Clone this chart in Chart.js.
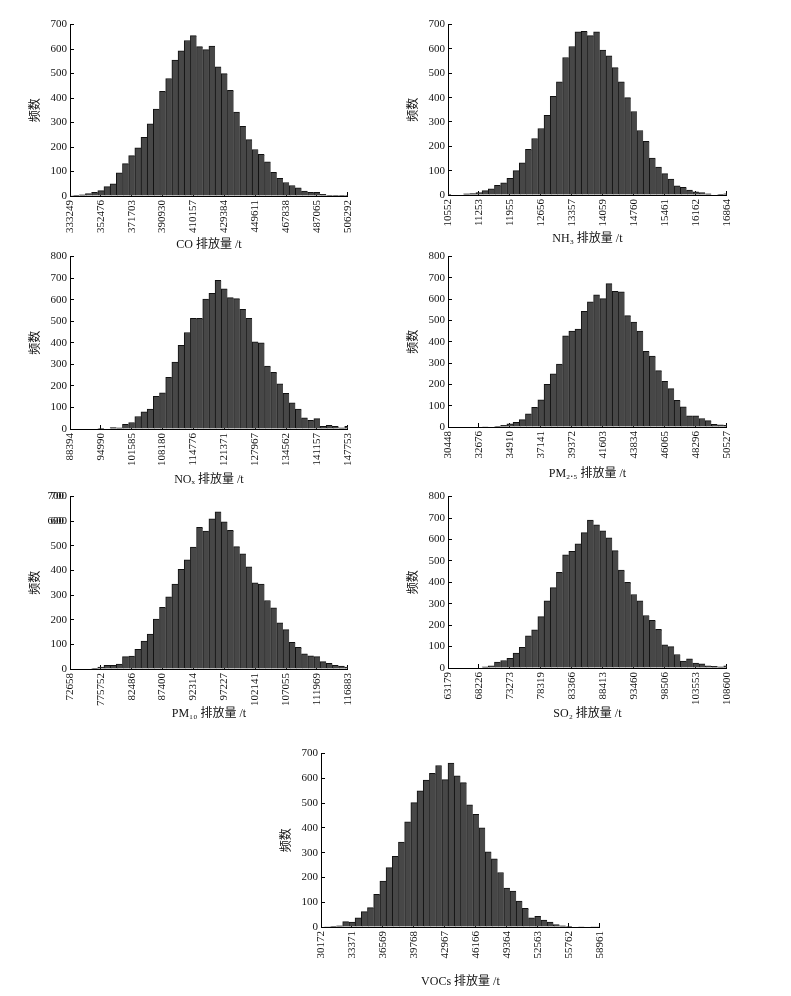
<!DOCTYPE html>
<html>
<head>
<meta charset="utf-8">
<script src="https://cdn.jsdelivr.net/npm/chart.js@4.4.1/dist/chart.umd.min.js"></script>
<style>
  body { margin: 0; background: #fff; width: 791px; height: 996px; position: relative; overflow: hidden; }
  canvas { position: absolute; }
</style>
</head>
<body>
<canvas id="coChart" width="349" height="245" style="left:20px;top:11px"></canvas>
<canvas id="nh3Chart" width="350" height="239" style="left:398px;top:11px"></canvas>
<canvas id="noxChart" width="349" height="248" style="left:20px;top:243px"></canvas>
<canvas id="pm25Chart" width="350" height="242" style="left:398px;top:243px"></canvas>
<canvas id="pm10Chart" width="349" height="242" style="left:20px;top:483px"></canvas>
<canvas id="so2Chart" width="350" height="242" style="left:398px;top:483px"></canvas>
<canvas id="vocChart" width="350" height="253" style="left:271px;top:740px"></canvas>
<script>
// Frequências (46 classes por gráfico)
const coCounts = [1, 3, 5, 10, 15, 22, 38, 50, 95, 132, 165, 197, 240, 295, 355, 427, 480, 555, 593, 635,
  655, 610, 598, 612, 528, 500, 432, 343, 285, 230, 190, 170, 140, 97, 72, 55, 43, 33, 20, 15,
  15, 7, 3, 3, 3, 3];
const nh3Counts = [3, 0, 0, 5, 6, 10, 18, 25, 40, 50, 68, 100, 132, 188, 232, 273, 327, 405, 465, 565,
  610, 670, 672, 655, 670, 595, 572, 523, 465, 400, 343, 265, 220, 152, 115, 88, 65, 38, 32, 20,
  13, 10, 5, 0, 3, 5];
const noxCounts = [0, 0, 0, 0, 0, 3, 2, 7, 5, 22, 30, 58, 80, 93, 152, 168, 240, 310, 388, 448,
  513, 513, 603, 630, 690, 650, 610, 605, 555, 513, 405, 400, 292, 263, 210, 165, 122, 93, 52, 40,
  48, 12, 17, 12, 5, 12];
const pm25Counts = [0, 0, 0, 0, 0, 0, 1, 2, 3, 8, 15, 22, 35, 62, 92, 127, 200, 250, 295, 428,
  450, 460, 543, 588, 620, 603, 673, 637, 635, 523, 492, 450, 355, 333, 265, 215, 180, 125, 95, 53,
  53, 40, 30, 12, 10, 8];
const pm10Counts = [0, 0, 0, 2, 3, 8, 15, 15, 20, 50, 52, 80, 113, 142, 203, 250, 293, 345, 405, 443,
  495, 575, 560, 610, 638, 598, 563, 497, 468, 415, 350, 345, 278, 248, 187, 160, 108, 88, 62, 53,
  50, 30, 23, 15, 12, 8];
const so2Counts = [0, 0, 0, 0, 0, 2, 5, 10, 28, 35, 45, 70, 97, 150, 178, 240, 313, 375, 447, 528,
  545, 580, 632, 690, 668, 640, 608, 548, 457, 400, 343, 313, 245, 223, 180, 108, 100, 63, 32, 43,
  23, 20, 10, 8, 5, 10];
const vocCounts = [0, 1, 3, 5, 22, 20, 37, 62, 78, 132, 185, 240, 285, 343, 425, 502, 550, 593, 620, 652,
  595, 662, 610, 583, 493, 455, 400, 303, 275, 220, 157, 145, 105, 75, 37, 43, 28, 20, 10, 5,
  3, 2, 1, 2, 1, 1];

// Rótulos do eixo X (um a cada 5 classes), como impressos
const coTicks = ['333249', '352476', '371703', '390930', '410157', '429384', '449611', '467838', '487065', '506292'];
const nh3Ticks = ['10552', '11253', '11955', '12656', '13357', '14059', '14760', '15461', '16162', '16864'];
const noxTicks = ['88394', '94990', '101585', '108180', '114776', '121371', '127967', '134562', '141157', '147753'];
const pm25Ticks = ['30448', '32676', '34910', '37141', '39372', '41603', '43834', '46065', '48296', '50527'];
const pm10Ticks = ['72658', '775752', '82486', '87400', '92314', '97227', '102141', '107055', '111969', '116883'];
const so2Ticks = ['63179', '68226', '73273', '78319', '83366', '88413', '93460', '98506', '103553', '108600'];
const vocTicks = ['30172', '33371', '36569', '39768', '42967', '46166', '49364', '52563', '55762', '58961'];

const FONT = "'Liberation Serif', 'Noto Sans CJK SC', serif";

// rótulos 600/700 duplicados no eixo Y do PM10 (como na figura)
const doubledLabels = {
  id: 'doubledLabels',
  afterDraw(chart) {
    const y = chart.scales.y;
    const ctx = chart.ctx;
    ctx.save();
    ctx.font = '11px ' + FONT;
    ctx.fillStyle = '#111';
    ctx.textAlign = 'right';
    ctx.textBaseline = 'middle';
    [600, 700].forEach(v => ctx.fillText(String(v), y.right - 6, y.getPixelForValue(v)));
    ctx.restore();
  }
};

function drawHist(id, counts, tickLabels, yMax, xTitle, xHeight, extraPlugins) {
  const ctx = document.getElementById(id).getContext('2d');
  new Chart(ctx, {
    type: 'bar',
    data: {
      datasets: [{
        data: counts.map((c, i) => ({ x: i, y: c })),
        backgroundColor: '#474747',
        borderColor: '#111',
        borderWidth: { top: 1, left: 1, right: 0, bottom: 0 },
        borderSkipped: 'start',
        barPercentage: 1,
        categoryPercentage: 1
      }]
    },
    options: {
      responsive: false,
      animation: false,
      devicePixelRatio: 1,
      layout: { padding: { top: 8, right: 10, left: 0, bottom: 0 } },
      plugins: { legend: { display: false }, tooltip: { enabled: false } },
      scales: {
        x: {
          type: 'linear',
          offset: false,
          min: 0,
          max: counts.length - 1,
          grid: { offset: false, drawOnChartArea: false, color: '#000', tickLength: -4 },
          border: { color: '#000', width: 1 },
          ticks: {
            stepSize: 5, autoSkip: false, minRotation: 90, maxRotation: 90, padding: 8,
            color: '#111', font: { family: FONT, size: 11 },
            callback: v => tickLabels[Math.round(v / 5)]
          },
          title: { display: true, text: xTitle, color: '#111', font: { family: FONT, size: 12 }, padding: { top: 0, bottom: 4 } },
          afterFit: s => { s.height = xHeight; }
        },
        y: {
          min: 0,
          max: yMax,
          grid: { drawOnChartArea: false, color: '#000', tickLength: -4 },
          border: { color: '#000', width: 1 },
          ticks: { stepSize: 100, padding: 7, color: '#111', font: { family: FONT, size: 11 } },
          title: { display: true, text: '频数', color: '#111', font: { family: FONT, size: 12 }, padding: { top: 9, bottom: 0 } },
          afterFit: s => { s.width = 50; }
        }
      }
    },
    plugins: extraPlugins || []
  });
}

drawHist('coChart', coCounts, coTicks, 700, 'CO 排放量 /t', 60);
drawHist('nh3Chart', nh3Counts, nh3Ticks, 700, 'NH₃ 排放量 /t', 55);
drawHist('noxChart', noxCounts, noxTicks, 800, 'NOₓ 排放量 /t', 62);
drawHist('pm25Chart', pm25Counts, pm25Ticks, 800, 'PM₂.₅ 排放量 /t', 58);
drawHist('pm10Chart', pm10Counts, pm10Ticks, 700, 'PM₁₀ 排放量 /t', 56, [doubledLabels]);
drawHist('so2Chart', so2Counts, so2Ticks, 800, 'SO₂ 排放量 /t', 57);
drawHist('vocChart', vocCounts, vocTicks, 700, 'VOCs 排放量 /t', 66);
</script>
</body>
</html>
